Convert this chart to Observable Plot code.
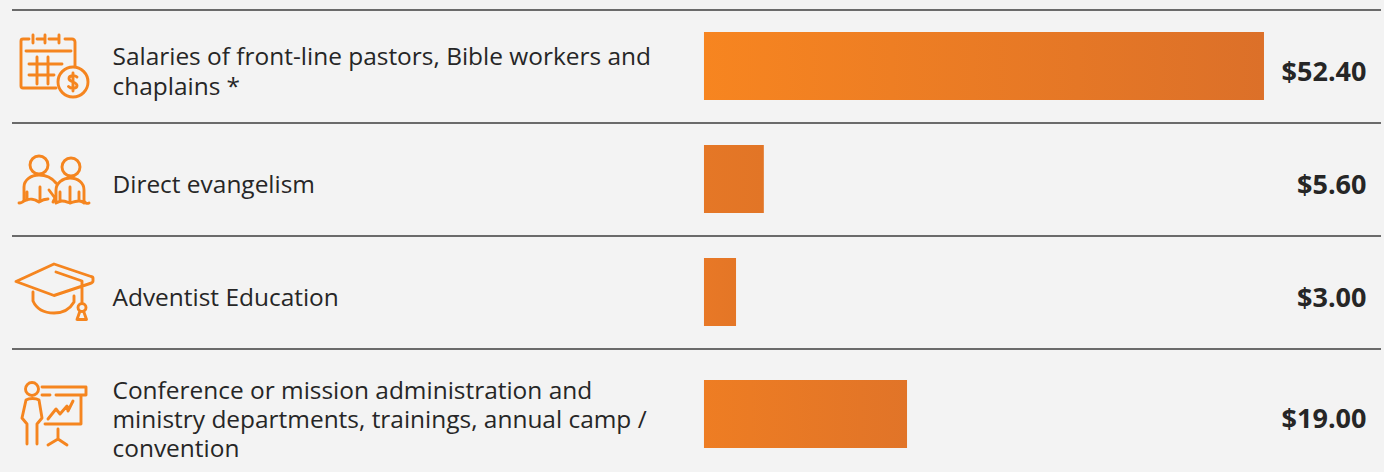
<!DOCTYPE html>
<html><head><meta charset="utf-8">
<script src="https://cdn.jsdelivr.net/npm/d3@7"></script>
<script src="https://cdn.jsdelivr.net/npm/@observablehq/plot@0.6"></script>
<style>html,body{margin:0;padding:0;background:#f3f3f3;overflow:hidden}svg{display:block;background:transparent}</style>
</head><body><div id="chart"></div>
<script>
const categories = [
  "Salaries of front-line pastors, Bible workers and\nchaplains *",
  "Direct evangelism",
  "Adventist Education",
  "Conference or mission administration and\nministry departments, trainings, annual camp /\nconvention"
];
const values = [52.4, 5.6, 3.0, 19.0];
const valueLabels = ["$52.40", "$5.60", "$3.00", "$19.00"];
const gradientStarts = ["#f78520", "#e57726", "#e87826", "#ee7d23"];
const gradientEnds = ["#dc7029", "#e27526", "#e47626", "#e17428"];
const icons = [
`<path d="M29 39h-6a2 2 0 0 0-2 2v45a2 2 0 0 0 2 2h33M33 35v8M45 35v8M59 35v8M37 39h8M49 39h10M65 39h7a3 3 0 0 1 3 3v24M26 51h45M37 57v27M48 57v27M29 64h33M29 75h25"/><circle cx="73" cy="82" r="15"/><path d="M77 77c-2-2-8-2-8 1.500 0 4 8 3 8 7 0 3.500-6 3.500-8.500 1M73 73v18"/>`,
`<circle cx="39" cy="165" r="9"/><circle cx="71" cy="167" r="9"/><path d="M19 203c2 0 4-1 5-2.500V187c0-7 7-12 15-12 7 0 13 3 17 8M24 201c5-3 11-2 15 1 3-2 6-3 9-3M27 192v8M40 187v14M49 190l6 8-2 4M56 203c2-1 4-2 6-2 3 0 5 1 8 2 3-1 6-2 9-2 2 0 4 1 5 2M56 203V190c0-7 7-12 14-12 8 0 14 5 14 12v11M89 203c-2 1-4 0-5-2M70 187v15M79 192v8M60 192v8"/>`,
`<path d="M54 264l37 12.500c2 .5 2 1 2 1.500v3c0 1.500-1.500 2-3 2.500l-36 12-38-14 38-17.500ZM56 272l26 9V302M33 292v9c4 9 13 12 21 12 9 0 16-4 20-11v-6"/><circle cx="82" cy="307.500" r="4"/><path d="M80 311l-3 8.500h9.500l-3-8.500"/>`,
`<circle cx="32" cy="389" r="6.500"/><path d="M42 387h44v8h-30M42 395h8M81 395v29h-36M27 444V424l-5-6 4-18c3-2 10-2 13 0l3 18-5 6v20M48 419l8-10 4 5 7-8 1 5 5-10M58 429v10M58 439l-10 6M58 439l9 6"/>`
];
const rows = categories.map((label, i) => ({label, value: values[i], valueLabel: valueLabels[i], i}));
const lastLabel = categories[3];
const top3 = d => d.label !== lastLabel;
const bot = d => d.label === lastLabel;

function gradients() {
  const defs = document.createElementNS("http://www.w3.org/2000/svg", "defs");
  defs.innerHTML = gradientStarts.map((c, i) =>
    `<linearGradient id="bar${i}"><stop offset="0" stop-color="${c}"/><stop offset="1" stop-color="${gradientEnds[i]}"/></linearGradient>`).join("");
  return defs;
}
function iconMark() {
  const g = document.createElementNS("http://www.w3.org/2000/svg", "g");
  g.setAttribute("fill", "none");
  g.setAttribute("stroke", "#f5851f");
  g.setAttribute("stroke-width", "2.900");
  g.setAttribute("stroke-linecap", "round");
  g.setAttribute("stroke-linejoin", "round");
  g.innerHTML = icons.join("");
  return g;
}
const textCommon = {y: "label", fontFamily: "'Open Sans'", fill: "#262626"};
const chart = Plot.plot({
  width: 1384, height: 472,
  margin: 0,
  style: {background: "transparent"},
  x: {domain: [-65.87, 63.63], range: [0, 1384], axis: null},
  y: {type: "band", domain: categories, range: [9, 461], paddingInner: 0.4, paddingOuter: 0.2, align: 0.5, axis: null},
  marks: [
    gradients,
    Plot.ruleY(rows, {y: "label", dy: -56.5, stroke: "#3c3c3c", strokeWidth: 1.3, insetLeft: 12, insetRight: 3}),
    Plot.barX(rows.filter(top3), {y: "label", x1: () => 0, x2: "value", fill: d => `url(#bar${d.i})`}),
    Plot.barX(rows.filter(bot), {y: "label", x1: () => 0, x2: "value", fill: d => `url(#bar${d.i})`, dy: 9}),
    Plot.text(rows.filter(top3), {...textCommon, text: "label", frameAnchor: "left", dx: 112, dy: 4, textAnchor: "start", fontSize: 24.45, lineHeight: 1.2}),
    Plot.text(rows.filter(bot), {...textCommon, text: "label", frameAnchor: "left", dx: 112, dy: 13, textAnchor: "start", fontSize: 24.45, lineHeight: 1.2}),
    Plot.text(rows.filter(top3), {...textCommon, text: "valueLabel", frameAnchor: "right", dx: -18, dy: 6, textAnchor: "end", fontSize: 27, fontWeight: 700}),
    Plot.text(rows.filter(bot), {...textCommon, text: "valueLabel", frameAnchor: "right", dx: -18, dy: 14, textAnchor: "end", fontSize: 27, fontWeight: 700}),
    iconMark
  ]
});
document.getElementById("chart").append(chart);
</script></body></html>
